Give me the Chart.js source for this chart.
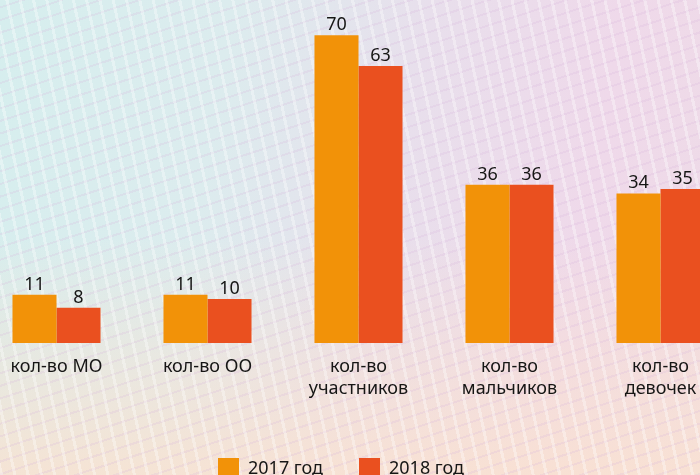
<!DOCTYPE html>
<html>
<head>
<meta charset="utf-8">
<script src="https://cdn.jsdelivr.net/npm/chart.js@4/dist/chart.umd.min.js"></script>
<style>
  html, body { margin: 0; padding: 0; }
  body {
    width: 700px; height: 475px; overflow: hidden; position: relative;
    background:
      repeating-linear-gradient(78deg, rgba(255,255,255,0.34) 0 3px, rgba(255,255,255,0) 3px 13px),
      repeating-linear-gradient(-18deg, rgba(215,180,220,0.22) 0 2px, rgba(0,0,0,0) 2px 12px),
      linear-gradient(to bottom, rgba(250,228,210,0) 50%, rgba(250,226,208,0.85) 100%),
      linear-gradient(100deg, #d6eeee 0%, #dcecee 30%, #e8dfec 55%, #efd9ea 80%, #eedbe7 100%);
  }
  #wrap { position: absolute; left: -54px; top: 0; width: 790px; height: 489px; }
</style>
</head>
<body>
<div id="wrap"><canvas id="c" width="790" height="489"></canvas></div>
<script>
const categories = [["кол-во МО"], ["кол-во ОО"], ["кол-во", "участников"], ["кол-во", "мальчиков"], ["кол-во", "девочек"]];
const seriesNames = ["2017 год", "2018 год"];
const values2017 = [11, 11, 70, 36, 34];
const values2018 = [8, 10, 63, 36, 35];
const seriesColors = ["#F29208", "#EA501F"];

const FONT = "'Noto Sans', 'Open Sans', sans-serif";
const TEXT = "#161615";

const valueLabels = {
  id: 'valueLabels',
  afterDatasetsDraw(chart) {
    const ctx = chart.ctx;
    ctx.save();
    ctx.font = "18px " + FONT;
    ctx.fillStyle = TEXT;
    ctx.textAlign = 'center';
    ctx.textBaseline = 'alphabetic';
    chart.data.datasets.forEach((ds, i) => {
      const meta = chart.getDatasetMeta(i);
      meta.data.forEach((el, j) => {
        ctx.fillText(String(ds.data[j]), el.x, el.y - 5);
      });
    });
    ctx.restore();
  }
};

new Chart(document.getElementById('c'), {
  type: 'bar',
  data: {
    labels: categories,
    datasets: [
      { label: seriesNames[0], data: values2017, backgroundColor: seriesColors[0], borderWidth: 0 },
      { label: seriesNames[1], data: values2018, backgroundColor: seriesColors[1], borderWidth: 0 }
    ]
  },
  options: {
    responsive: false,
    animation: false,
    layout: { padding: 0 },
    datasets: { bar: { categoryPercentage: 0.583, barPercentage: 1 } },
    scales: {
      x: {
        grid: { display: false },
        border: { display: false },
        ticks: { color: TEXT, font: { family: FONT, size: 18, lineHeight: 1.2 }, padding: 5, maxRotation: 0, autoSkip: false },
        afterFit: (s) => { s.height = 79; }
      },
      y: {
        min: 0, max: 78,
        grid: { display: false },
        border: { display: false },
        ticks: { display: false },
        afterFit: (s) => { s.width = 35; }
      }
    },
    plugins: {
      legend: {
        position: 'bottom',
        labels: { color: TEXT, font: { family: FONT, size: 18 }, boxWidth: 21, boxHeight: 21, padding: 36 }
      },
      tooltip: { enabled: false }
    }
  },
  plugins: [valueLabels]
});
</script>
</body>
</html>
